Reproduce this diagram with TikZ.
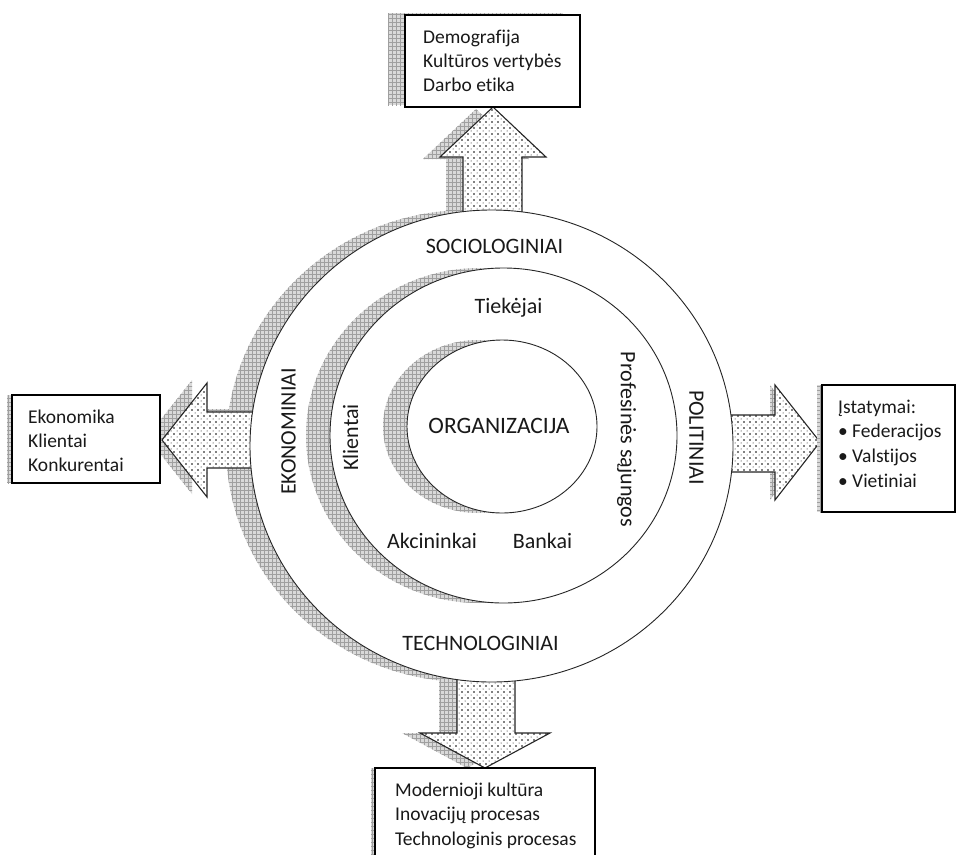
\documentclass[tikz,border=0pt]{standalone}
\usepackage{fontspec}
\setmainfont{Carlito}[Ligatures=NoCommon]
\usetikzlibrary{patterns}
\pgfdeclarepatternformonly{shgrid}{\pgfqpoint{-0.5pt}{-0.5pt}}{\pgfqpoint{4.5pt}{4.5pt}}{\pgfqpoint{4pt}{4pt}}{%
  \pgfsetlinewidth{0.5pt}%
  \pgfpathmoveto{\pgfqpoint{0pt}{0pt}}\pgfpathlineto{\pgfqpoint{4.01pt}{0pt}}%
  \pgfpathmoveto{\pgfqpoint{0pt}{0pt}}\pgfpathlineto{\pgfqpoint{0pt}{4.01pt}}%
  \pgfusepath{stroke}}
\pgfdeclarepatternformonly{ardots}{\pgfqpoint{-1pt}{-1pt}}{\pgfqpoint{7pt}{7pt}}{\pgfqpoint{6pt}{6pt}}{%
  \pgfpathcircle{\pgfqpoint{0pt}{0pt}}{0.8pt}%
  \pgfpathcircle{\pgfqpoint{3pt}{3pt}}{0.5pt}%
  \pgfusepath{fill}}
\newcommand\boxfnt{\fontsize{19.5}{23}\selectfont}
\newcommand\ringfnt{\fontsize{22}{26}\selectfont}
\newcommand\orgfnt{\fontsize{23.5}{28}\selectfont}
\tikzset{
  shadowfill/.style={fill=gray!30, postaction={pattern=shgrid, pattern color=gray!75}},
  ringshape/.style={draw=black!85, line width=0.9pt, fill=white},
  barrow/.style={preaction={fill=white}, pattern=ardots, pattern color=black, draw=black!85, line width=1.1pt, line join=miter},
  infobox/.style={draw=black, line width=1.4pt, fill=white},
  lbl/.style={inner sep=0pt, text=black!90},
  boxtxt/.style={lbl, anchor=base west, font=\boxfnt},
  ringtxt/.style={lbl, font=\ringfnt},
}
\begin{document}
\begin{tikzpicture}[x=1pt,y=-1pt]
\useasboundingbox (0,0) rectangle (957,854);
% outer shadow
\path[shadowfill] (467.5,446) ellipse [x radius=241.5pt, y radius=236pt];
% arrow shadows
\path[shadowfill, shift={(-17,2)}] (463,230) -- (463,157) -- (440,157) -- (493,107) -- (546,157) -- (522,157) -- (522,230) -- cycle;
\path[shadowfill, shift={(-15,-3)}] (270,412) -- (207,412) -- (207,383) -- (162,440) -- (207,497) -- (207,468) -- (270,468) -- cycle;
\path[shadowfill, shift={(-5,0)}] (712,415) -- (775,415) -- (775,385) -- (820,442) -- (775,500) -- (775,472) -- (712,472) -- cycle;
\path[shadowfill, shift={(-18,0)}] (457,660) -- (457,733) -- (420,733) -- (485,768) -- (550,733) -- (515,733) -- (515,660) -- cycle;
% arrows
\path[barrow] (463,230) -- (463,157) -- (440,157) -- (493,107) -- (546,157) -- (522,157) -- (522,230) -- cycle;
\path[barrow] (270,412) -- (207,412) -- (207,383) -- (162,440) -- (207,497) -- (207,468) -- (270,468) -- cycle;
\path[barrow] (712,415) -- (775,415) -- (775,385) -- (820,442) -- (775,500) -- (775,472) -- (712,472) -- cycle;
\path[barrow] (457,660) -- (457,733) -- (420,733) -- (485,768) -- (550,733) -- (515,733) -- (515,660) -- cycle;
% rings
\path[ringshape] (491.5,446) ellipse [x radius=241.5pt, y radius=236pt];
\path[shadowfill] (479.5,435.5) ellipse [x radius=173.5pt, y radius=167.5pt];
\path[ringshape] (503.5,435.5) ellipse [x radius=173.5pt, y radius=167.5pt];
\path[shadowfill] (478,426.5) ellipse [x radius=95pt, y radius=86.5pt];
\path[ringshape] (502,426.5) ellipse [x radius=95pt, y radius=86.5pt];
% boxes
\path[shadowfill] (388,13) rectangle (563,105);
\path[infobox] (405,15) rectangle (580,107);
\path[shadowfill] (7,395) rectangle (155,483);
\path[infobox] (12,395) rectangle (160,483);
\path[shadowfill] (817,385) rectangle (950,512);
\path[infobox] (822,385) rectangle (955,512);
\path[shadowfill] (371,768) rectangle (591,870);
\path[fill=white] (375,768) rectangle (595,870);
\draw[line width=1.4pt] (375,870) -- (375,768) -- (595,768) -- (595,870);
% box texts
\node[boxtxt] (t1) at (423,43) {Demografija};
\node[boxtxt] (t2) at (423,67) {Kultūros vertybės};
\node[boxtxt] (t3) at (423,91) {Darbo etika};
\node[boxtxt] (l1) at (28,423) {Ekonomika};
\node[boxtxt] (l2) at (28,447) {Klientai};
\node[boxtxt] (l3) at (28,471) {Konkurentai};
\node[boxtxt] (r0) at (838,413) {Įstatymai:};
\node[boxtxt] (rb1) at (838,437) {•};
\node[boxtxt] (r1) at (852,437) {Federacijos};
\node[boxtxt] (rb2) at (838,462) {•};
\node[boxtxt] (r2) at (852,462) {Valstijos};
\node[boxtxt] (rb3) at (838,487) {•};
\node[boxtxt] (r3) at (852,487) {Vietiniai};
\node[boxtxt] (b1) at (395,796) {Modernioji kultūra};
\node[boxtxt] (b2) at (395,820.5) {Inovacijų procesas};
\node[boxtxt] (b3) at (395,845) {Technologinis procesas};
% ring labels
\node[ringtxt, anchor=base] (soc) at (494.5,253) {SOCIOLOGINIAI};
\node[ringtxt, anchor=base] (tie) at (508.5,313.5) {Tiekėjai};
\node[lbl, font=\orgfnt, anchor=base] (org) at (499,433.3) {ORGANIZACIJA};
\node[ringtxt, anchor=base] (akc) at (432,548.3) {Akcininkai};
\node[ringtxt, anchor=base] (ban) at (542.5,548.3) {Bankai};
\node[ringtxt, anchor=base] (tech) at (480.5,650.7) {TECHNOLOGINIAI};
\node[ringtxt, rotate=90] (eko) at (288.5,431.5) {EKONOMINIAI};
\node[ringtxt, rotate=90] (kli) at (350.5,437.5) {Klientai};
\node[ringtxt, rotate=-90] (prof) at (626.5,439.5) {Profesinės sąjungos};
\node[ringtxt, rotate=-90] (pol) at (696.5,437.5) {POLITINIAI};
\end{tikzpicture}
\end{document}
